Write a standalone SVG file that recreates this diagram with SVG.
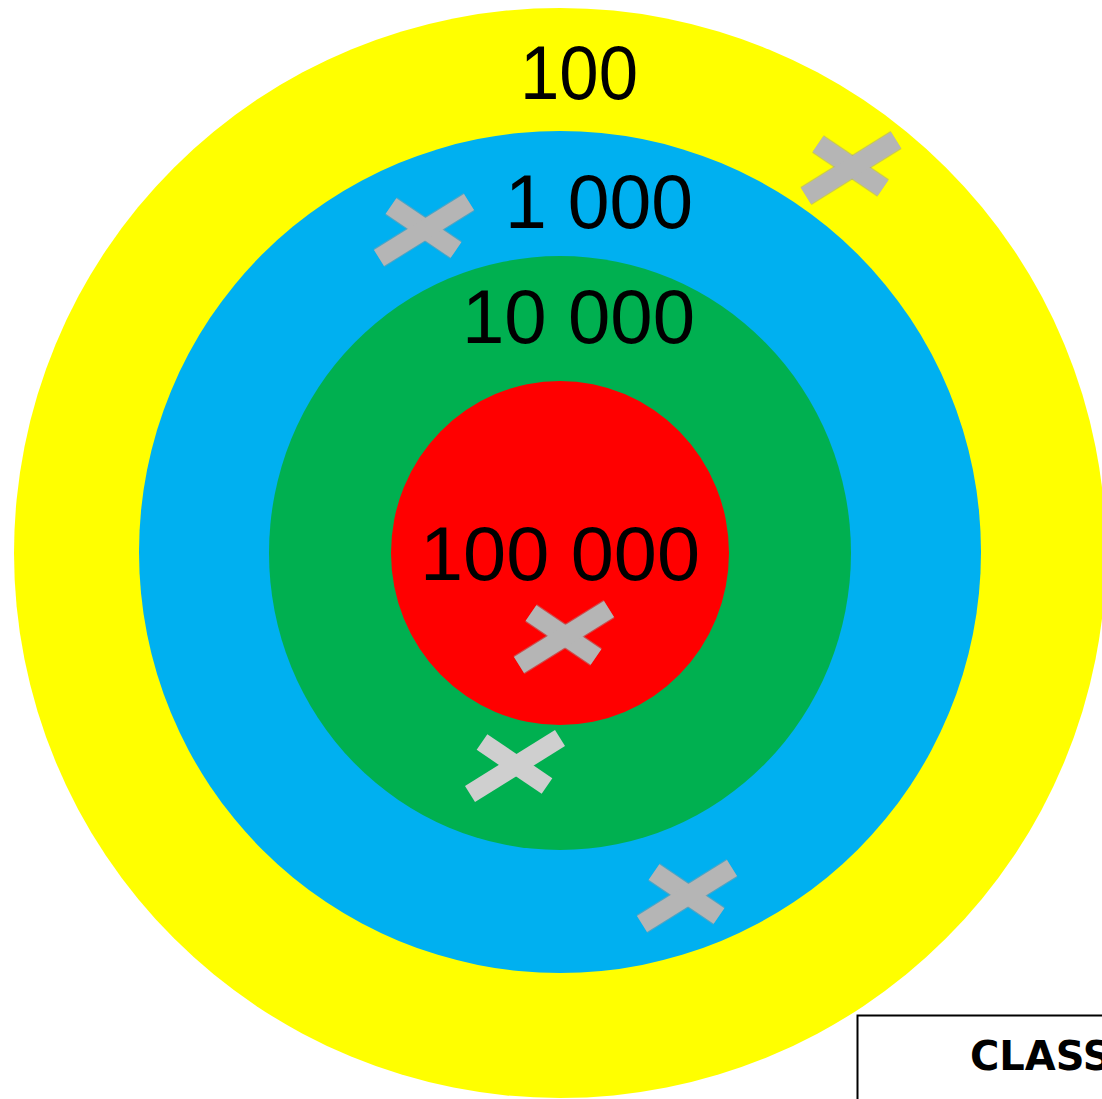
<svg xmlns="http://www.w3.org/2000/svg" width="1102" height="1099" viewBox="0 0 1102 1099">
<style>
.num{font-family:"Liberation Sans","DejaVu Sans",sans-serif;font-size:76px;fill:#000;}
.tape{stroke:#b5b5b5;stroke-width:19;stroke-linecap:butt;fill:none;}
.tape2{stroke:#cfcfcf;stroke-width:19;stroke-linecap:butt;fill:none;}
.edge{stroke:#9a9a9a;stroke-width:21;stroke-linecap:butt;fill:none;opacity:0.5;}
</style>
<defs>
<g id="xmark">
<line class="edge" x1="-31" y1="-24" x2="34" y2="20"/>
<line class="edge" x1="-43" y1="28" x2="47" y2="-28"/>
<line class="tape" x1="-31" y1="-24" x2="34" y2="20"/>
<line class="tape" x1="-43" y1="28" x2="47" y2="-28"/>
</g>
<g id="xmark2">
<line class="tape2" x1="-31" y1="-24" x2="34" y2="20"/>
<line class="tape2" x1="-43" y1="28" x2="47" y2="-28"/>
</g>
</defs>
<rect width="1102" height="1099" fill="#fff"/>
<g id="ring-100"><ellipse cx="560" cy="553" rx="546" ry="545" fill="#ffff00"/></g>
<g id="ring-1000"><ellipse cx="560" cy="552" rx="421" ry="421" fill="#00b0f0"/></g>
<g id="ring-10000"><ellipse cx="560" cy="553" rx="291" ry="297" fill="#00b050"/></g>
<g id="ring-100000"><ellipse cx="560" cy="553" rx="169" ry="172" fill="#ff0000"/></g>
<g id="labels">
<text class="num" x="520" y="99" textLength="118" lengthAdjust="spacingAndGlyphs">100</text>
<text class="num" x="505" y="228" textLength="188" lengthAdjust="spacingAndGlyphs">1 000</text>
<text class="num" x="462" y="343" textLength="233" lengthAdjust="spacingAndGlyphs">10 000</text>
<text class="num" x="420" y="580" textLength="280" lengthAdjust="spacingAndGlyphs">100 000</text>
</g>
<g id="marks">
<use href="#xmark" x="422" y="230"/>
<use href="#xmark" x="849" y="168"/>
<use href="#xmark" x="562" y="637"/>
<use href="#xmark2" x="513" y="766"/>
<use href="#xmark" x="685" y="896"/>
</g>
<g id="classe-box">
<rect x="857.5" y="1015.5" width="260" height="100" fill="#fff" stroke="#000" stroke-width="2"/>
<text x="970" y="1070" font-family="'DejaVu Sans',sans-serif" font-weight="bold" font-size="40" fill="#000">CLASSE</text>
</g>
</svg>
